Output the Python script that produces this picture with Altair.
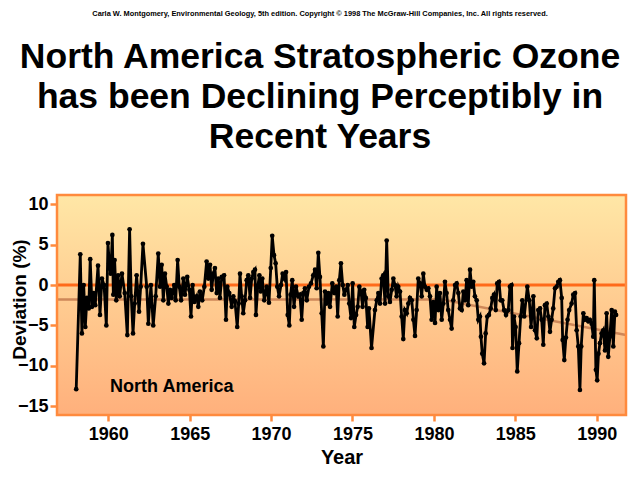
import altair as alt
import pandas as pd

# ---- data (decimal year, deviation %) ----
years = [
    1958.03, 1958.28, 1958.38, 1958.49, 1958.59, 1958.69, 1958.80, 1958.89, 1959.00, 1959.10,
    1959.20, 1959.37, 1959.49, 1959.61, 1959.74, 1959.88, 1959.98, 1960.06, 1960.15, 1960.25,
    1960.31, 1960.39, 1960.49, 1960.60, 1960.70, 1960.84, 1961.01, 1961.17, 1961.31, 1961.41,
    1961.52, 1961.62, 1961.74, 1961.89, 1961.99, 1962.13,
    1962.36, 1962.46, 1962.62, 1962.76, 1962.91, 1963.07, 1963.18, 1963.28, 1963.38, 1963.48,
    1963.59, 1963.69, 1963.79, 1963.89, 1964.05, 1964.14, 1964.26, 1964.36, 1964.47, 1964.61,
    1964.71, 1964.85, 1964.98, 1965.08, 1965.18, 1965.28, 1965.43, 1965.53, 1965.63, 1965.77,
    1965.90, 1966.04, 1966.14, 1966.25, 1966.35, 1966.45, 1966.55, 1966.66, 1966.76, 1966.86,
    1966.97, 1967.11, 1967.23, 1967.31, 1967.43, 1967.58, 1967.68, 1967.78, 1967.92, 1968.01,
    1968.09, 1968.19, 1968.29, 1968.40, 1968.50, 1968.60, 1968.71, 1968.81, 1968.91, 1969.01,
    1969.07, 1969.18, 1969.28, 1969.36, 1969.46, 1969.58, 1969.73, 1969.87, 1969.98, 1970.07,
    1970.18, 1970.28, 1970.38, 1970.49, 1970.61, 1970.71, 1970.81, 1970.92, 1971.02, 1971.12,
    1971.20, 1971.30, 1971.41, 1971.53, 1971.67,
    1971.77, 1971.88, 1971.98, 1972.08, 1972.19, 1972.33, 1972.45, 1972.59, 1972.70, 1972.80,
    1972.90, 1973.00, 1973.11, 1973.21, 1973.31, 1973.42, 1973.51, 1973.62, 1973.76, 1973.88,
    1974.00, 1974.09, 1974.19, 1974.29, 1974.40, 1974.50, 1974.60, 1974.71, 1974.80, 1974.91,
    1975.01, 1975.11, 1975.22, 1975.32, 1975.42, 1975.52, 1975.62, 1975.72, 1975.82, 1975.93,
    1976.01, 1976.17,
    1976.38, 1976.49, 1976.59, 1976.69, 1976.79, 1976.89, 1977.00, 1977.10, 1977.20, 1977.30,
    1977.41, 1977.51, 1977.61, 1977.71, 1977.81, 1977.92, 1978.02, 1978.12, 1978.22, 1978.33,
    1978.43, 1978.53, 1978.64, 1978.74, 1978.84, 1978.94, 1979.04, 1979.15, 1979.25, 1979.35,
    1979.45, 1979.56, 1979.66, 1979.76, 1979.86, 1979.96, 1980.07, 1980.17, 1980.27, 1980.37,
    1980.48, 1980.58,
    1980.68, 1980.78, 1980.88, 1980.99, 1981.09, 1981.19, 1981.30, 1981.40, 1981.50, 1981.60,
    1981.71, 1981.81, 1981.91, 1982.01, 1982.11, 1982.22, 1982.32, 1982.42, 1982.52, 1982.63,
    1982.73, 1982.83, 1982.89, 1982.97, 1983.08, 1983.18, 1983.28, 1983.38, 1983.49, 1983.59,
    1983.69, 1983.80, 1983.89, 1984.00, 1984.10, 1984.20, 1984.31, 1984.43, 1984.57, 1984.67,
    1984.77, 1984.83, 1984.92, 1985.02, 1985.12, 1985.23, 1985.33, 1985.43, 1985.55,
    1985.74, 1985.86, 1985.97, 1986.11, 1986.21, 1986.32, 1986.41, 1986.52, 1986.62, 1986.72,
    1986.82, 1986.93, 1987.03, 1987.13, 1987.23, 1987.33, 1987.44, 1987.54, 1987.64, 1987.74,
    1987.85, 1987.91, 1988.01, 1988.11, 1988.21, 1988.31, 1988.46, 1988.56, 1988.67, 1988.77,
    1988.87, 1988.97, 1989.05, 1989.18, 1989.28, 1989.38, 1989.48, 1989.58, 1989.69, 1989.79,
    1989.85, 1989.95, 1990.03, 1990.11, 1990.20, 1990.30, 1990.40, 1990.51, 1990.61, 1990.71,
    1990.81, 1990.92, 1991.02, 1991.12, 1991.19,
]
deviation = [
    -12.9, 3.8, -6.0, 0.0, -5.2, -1.6, -2.9, 3.2, -2.7, -1.0,
    -2.5, 2.4, -3.7, 0.8, 0.0, -5.0, 5.2, 2.7, 1.4, 6.2,
    -1.2, 3.1, -1.9, 1.2, -1.4, 1.4, -1.0, -6.2, 6.9, -1.4,
    -6.0, -2.3, 1.2, -3.3, -0.2, 5.1,
    -0.2, -4.8, 0.0, -5.0, -1.4, 3.9, -0.2, 2.5, -1.9, 1.4,
    -0.2, -2.3, -0.6, -1.6, 0.0, -1.9, 3.1, -0.2, -1.9, 0.8,
    -1.2, 1.0, -0.6, -3.9, 0.0, -2.1, -1.4, -2.7, -0.8, -1.9,
    -0.2, 2.9, 0.8, 2.5, -0.6, 1.4, 2.1, -1.0, 0.8, -1.6,
    1.0, 1.2, -4.3, -0.2, -1.0, -2.7, -1.4, -2.0, -5.2, -2.3,
    1.4, -1.4, -3.5, -1.9, 0.6, 1.2, -1.6, 0.8, 1.6, 1.9,
    -3.7, -0.2, 1.2, -0.8, 0.8, -1.9, -0.2, -2.2, 2.1, 6.1,
    3.7, 2.7, -0.2, -1.4, 0.0, 1.4, 0.8, 1.6, -3.7, -5.0,
    -1.2, 0.6, -2.7, -0.2, -1.4,
    -1.2, -4.3, -1.0, -0.4, -1.9, -0.2, 0.2, 1.2, 1.9, -0.4,
    4.0, 1.0, -3.5, -7.6, -0.8, -2.3, -1.0, -2.7, 0.2, -1.0,
    -0.2, -3.9, 0.6, 2.7, 0.0, -1.2, -0.6, 0.0, -2.3, -4.1,
    0.2, -5.2, -3.7, -2.7, -0.2, -0.8, -2.7, -0.6, -1.6, -5.2,
    -2.9, -7.8,
    -3.1, -1.9, -1.0, -2.3, 0.8, 1.2, -2.3, 5.5, -1.4, -2.1,
    -0.6, 0.8, 0.0, -1.4, -0.2, -0.8, -3.9, -6.7, -3.1, -3.5,
    -2.3, -1.6, -1.9, -4.3, -6.3, -3.1, 0.8, 0.2, -1.4, 1.4,
    -0.2, -0.6, -0.4, -1.4, -4.3, -2.1, -4.7, -0.2, -3.1, -1.0,
    -4.3, -2.3,
    0.4, -1.0, -3.1, -4.3, -5.4, -1.9, 0.0, 0.2, -1.0, -2.9,
    -3.1, -0.8, -1.9, 0.6, -2.5, 1.9, -0.2, 0.4, -1.4, -1.9,
    -4.3, -3.9, -6.4, -8.5, -9.7, -6.0, -3.9, -3.7, -2.9, -1.6,
    -1.2, -3.1, 0.2, 0.4, -1.9, -1.9, -3.1, -3.7, -3.1, -0.2,
    0.0, -7.8, -3.9, -5.2, -10.7, -7.2, -3.9, -1.9, -3.9,
    -0.2, -1.9, -5.2, -1.4, -5.6, -6.6, -3.1, -2.9, -4.3, -7.4,
    -2.5, -2.3, -3.9, -5.8, -4.3, -2.9, -0.4, -0.2, 0.4, 0.6,
    -1.6, -6.8, -9.3, -6.5, -4.3, -3.1, -2.3, -1.2, -1.0, -5.6,
    -7.6, -13.0, -7.6, -3.5, -4.3, -4.1, -4.5, -4.3, -4.8, -6.4,
    0.6, -10.5, -11.8, -8.5, -7.2, -6.0, -5.6, -8.1, -3.5, -8.9,
    -6.4, -3.1, -7.6, -3.3, -3.7,
]

trend_years = [1956.85, 1980.5, 1991.8]
trend_values = [-1.8, -1.8, -6.2]

label_years = [1963.9]
label_values = [-12.6]
label_texts = ["North America"]

x_domain = [1956.85, 1991.8]
y_domain = [-16.1, 11.15]
x_ticks = [1960, 1965, 1970, 1975, 1980, 1985, 1990]
y_ticks = [-15, -10, -5, 0, 5, 10]

title_line = ("Carla W. Montgomery, Environmental Geology, 5th edition. "
              "Copyright \u00a9 1998 The McGraw-Hill Companies, Inc. All rights reserved.")
title_lines = ["North America Stratospheric Ozone",
               "has been Declining Perceptibly in",
               "Recent Years"]

FONT = "Liberation Sans"
ORANGE = "#FF8A3D"

series = pd.DataFrame({"year": years, "dev": deviation})
trend = pd.DataFrame({"year": trend_years, "dev": trend_values})
labels = pd.DataFrame({"year": label_years, "dev": label_values, "txt": label_texts})
box = pd.DataFrame({"x0": [x_domain[0]], "x1": [x_domain[1]],
                    "y0": [y_domain[0]], "y1": [y_domain[1]]})
zero = pd.DataFrame({"x0": [x_domain[0]], "x1": [x_domain[1]], "dev": [0]})

xscale = alt.Scale(domain=x_domain, nice=False, zero=False)
yscale = alt.Scale(domain=y_domain, nice=False, zero=False)

xaxis = alt.Axis(values=x_ticks, format="d", title="Year", grid=False, domain=False,
                 tickColor=ORANGE, tickWidth=2.5, tickSize=6, labelPadding=4,
                 labelFont=FONT, labelFontSize=18, labelFontWeight="bold", labelColor="black",
                 titleFont=FONT, titleFontSize=20, titleFontWeight="bold", titleColor="black",
                 titlePadding=4)
yaxis = alt.Axis(values=y_ticks, title="Deviation (%)", grid=False, domain=False,
                 tickColor=ORANGE, tickWidth=2.5, tickSize=7, labelPadding=2,
                 labelFont=FONT, labelFontSize=18, labelFontWeight="bold", labelColor="black",
                 titleFont=FONT, titleFontSize=19, titleFontWeight="bold", titleColor="black",
                 titleX=-38, titleY=104, titleAngle=270, titleAlign="center",
                 titleBaseline="middle")

grad = alt.LinearGradient(
    gradient="linear",
    stops=[alt.GradientStop(color="#FFE7A6", offset=0),
           alt.GradientStop(color="#FFCB90", offset=0.5),
           alt.GradientStop(color="#FFB07C", offset=1)],
    x1=0, x2=0, y1=0, y2=1)

bg = alt.Chart(box).mark_rect(color=grad).encode(
    x=alt.X("x0:Q", scale=xscale, axis=xaxis), x2="x1:Q",
    y=alt.Y("y0:Q", scale=yscale, axis=yaxis), y2="y1:Q")

zero_line = alt.Chart(zero).mark_rule(color="#FF6A1A", strokeWidth=3).encode(
    x=alt.X("x0:Q", scale=xscale), x2="x1:Q", y=alt.Y("dev:Q", scale=yscale))

trend_line = alt.Chart(trend).mark_line(color="#C97F52", strokeWidth=2.5, opacity=0.9).encode(
    x=alt.X("year:Q", scale=xscale), y=alt.Y("dev:Q", scale=yscale))

line = alt.Chart(series).mark_line(
    color="black", strokeWidth=2.8,
    point=alt.OverlayMarkDef(filled=True, color="black", size=22)).encode(
    x=alt.X("year:Q", scale=xscale), y=alt.Y("dev:Q", scale=yscale))

label = alt.Chart(labels).mark_text(font=FONT, fontSize=18, fontWeight="bold",
                                    color="black").encode(
    x=alt.X("year:Q", scale=xscale), y=alt.Y("dev:Q", scale=yscale), text="txt:N")

frame = alt.Chart(box).mark_rect(fillOpacity=0, stroke=ORANGE, strokeWidth=2.5).encode(
    x=alt.X("x0:Q", scale=xscale), x2="x1:Q",
    y=alt.Y("y0:Q", scale=yscale), y2="y1:Q")

chart = alt.layer(bg, zero_line, trend_line, line, label, frame).properties(
    width=569, height=220,
    autosize=alt.AutoSizeParams(type="none"),
    padding={"left": 49, "top": 187, "right": 6, "bottom": 57},
    title=alt.Title(
        text=title_line, subtitle=title_lines,
        font=FONT, fontSize=7.4, fontWeight="bold", color="black",
        subtitleFont=FONT, subtitleFontSize=35.5, subtitleFontWeight="bold",
        subtitleColor="black", subtitleLineHeight=40, subtitlePadding=23,
        anchor="middle", dx=-21.5, offset=38),
).configure_view(stroke=None).configure(background="white")

chart.save("out.html", embed_options={"renderer": "svg", "actions": False})
